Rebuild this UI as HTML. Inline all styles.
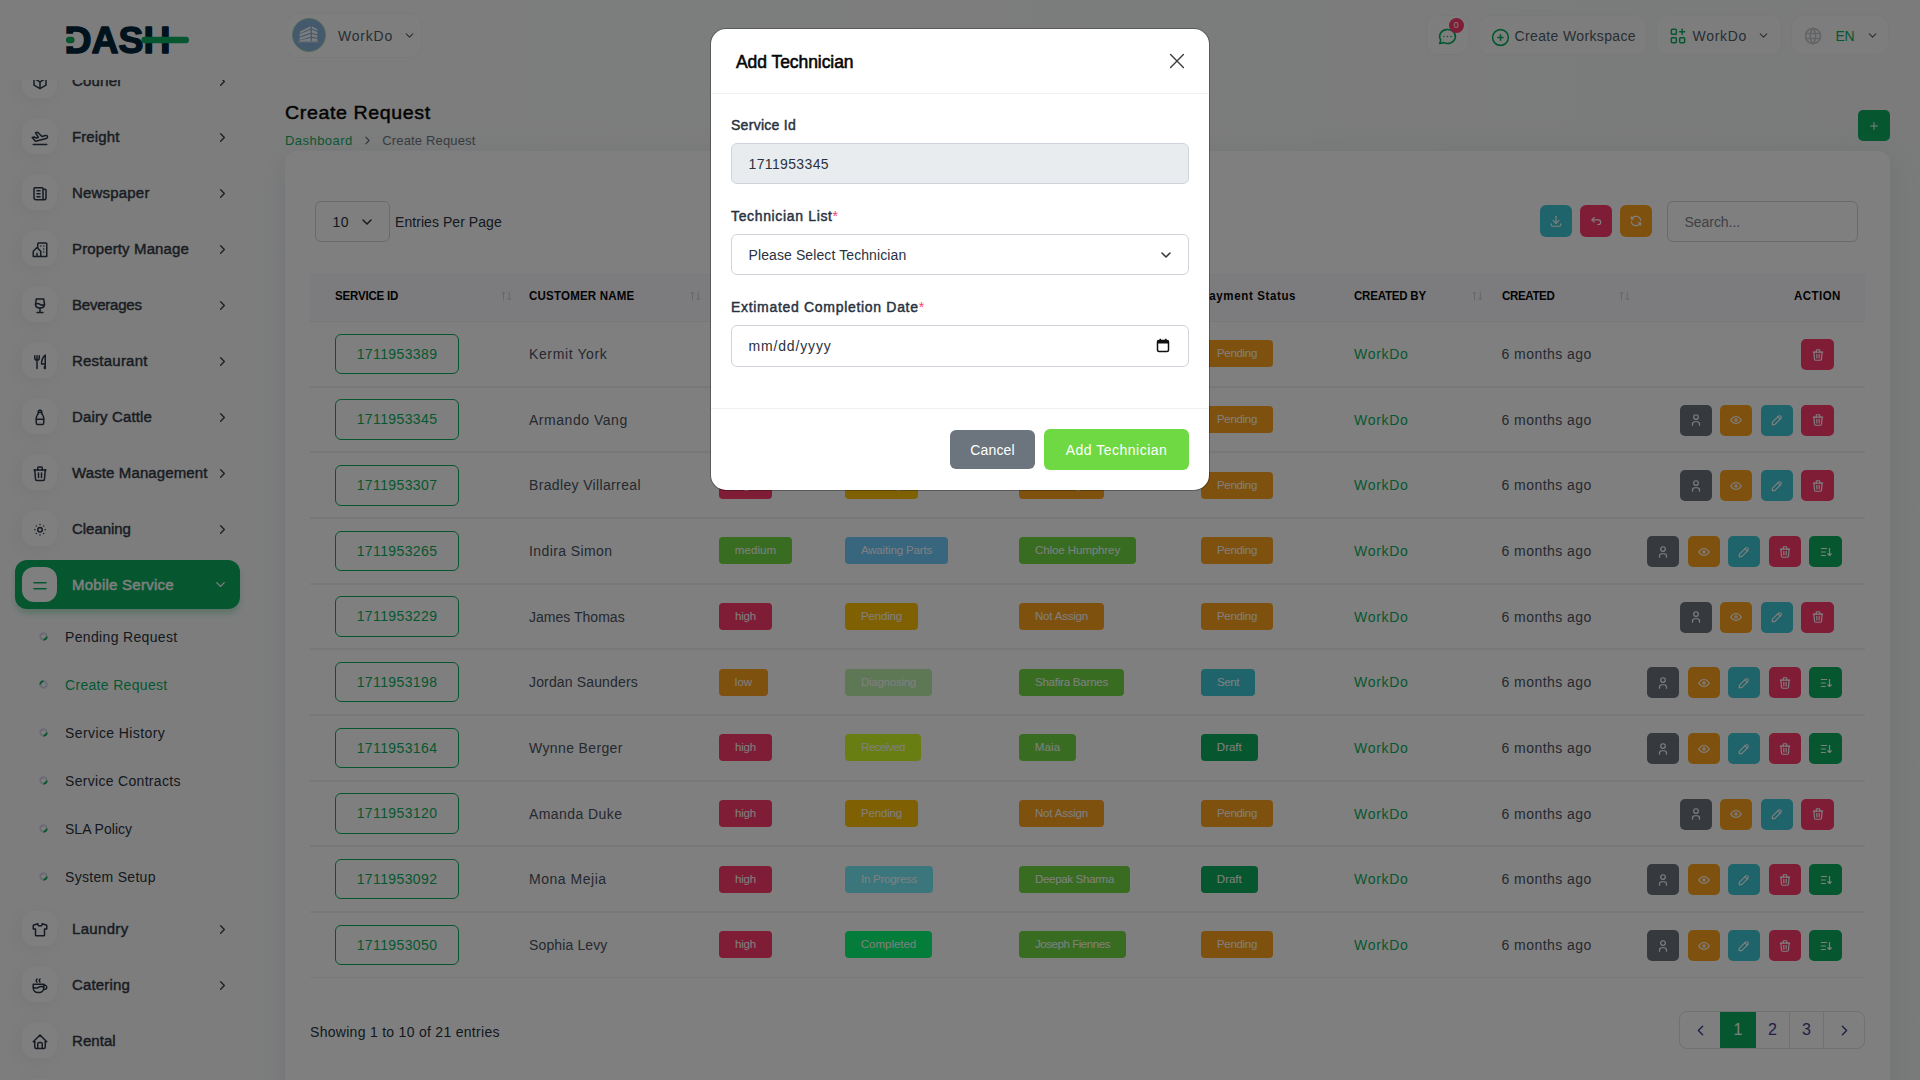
<!DOCTYPE html><html lang="en"><head><meta charset="utf-8"><title>Create Request</title><style>
*{box-sizing:border-box;margin:0;padding:0}
html,body{width:1920px;height:1080px;overflow:hidden}
body{font-family:"Liberation Sans",sans-serif;font-size:14px;color:#293240;background:linear-gradient(90deg,#fbfbfc 0%,#fafbfb 25%,#f4f6f5 100%);position:relative}
svg{display:block}
.abs{position:absolute}
/* sidebar */
.sidebar{position:absolute;left:0;top:0;width:280px;height:1080px}
.navwrap{position:absolute;left:0;top:80px;width:280px;height:1000px;overflow:hidden}
.nav{position:absolute;left:0;top:-80px;width:280px}
.ni{position:absolute;left:15px;width:225px;height:49px;border-radius:12px;color:#333a44}
.ni .ib{position:absolute;left:7px;top:7px;width:35px;height:35px;border-radius:12px;background:#fff;box-shadow:-3px 4px 23px rgba(0,0,0,.06);display:flex;align-items:center;justify-content:center;color:#2d3748}
.ni .ib svg{transform:translateY(.8px)}
.ni .t{position:absolute;left:57px;top:.5px;line-height:49px;font-size:14px;font-weight:400;-webkit-text-stroke:.42px currentColor;white-space:nowrap;transform:scaleX(1.07);transform-origin:0 50%}
.ni .ar{position:absolute;left:199.500px;top:17.500px;color:#333a44}
.ni.act{background:#0CAF60;box-shadow:0 5px 7px -1px rgba(12,175,96,.3);color:#fff}
.ni.act .ib{color:#0CAF60;box-shadow:none}
.ni.act .ar{color:#fff;left:197.500px;top:17px}
.si{position:absolute;left:65px;font-size:14px;line-height:20px;white-space:nowrap;color:#293240}
.si.cur{color:#0CAF60}
.dot{position:absolute;left:40px;width:7px;height:7px;border-radius:50%;border:1.5px solid #b9bdc6;border-right-color:#0CAF60;border-bottom-color:#0CAF60;transform:rotate(0deg)}
/* header */
.hbox{position:absolute;top:14.500px;height:40.500px;border:1px solid rgba(0,0,0,.035);background:rgba(255,255,255,.55);border-radius:12px;color:#525b69;font-size:14px;white-space:nowrap}
.hbox .tx{position:absolute;top:0;line-height:40px}
/* page */
h4.title{position:absolute;left:285px;top:99.500px;font-size:18.500px;line-height:26px;font-weight:400;color:#060606;white-space:nowrap;-webkit-text-stroke:.45px #060606}
.bc{position:absolute;top:132.200px;font-size:13px;line-height:18px;white-space:nowrap}
.card{position:absolute;left:285px;top:151px;width:1605px;height:960px;background:#fff;border-radius:12px;box-shadow:0 6px 30px rgba(182,186,203,.3)}
.btn-ic{position:absolute;width:32px;height:32px;border-radius:6px;display:flex;align-items:center;justify-content:center;color:#fff}
.th{position:absolute;top:-1px;font-size:12.800px;font-weight:700;line-height:48px;color:#060606;white-space:nowrap;transform:scaleX(.9);transform-origin:0 50%}
.sorter{position:absolute;top:17.500px;width:11px;height:10px;opacity:.16}
.row{position:absolute;left:25px;width:1555px;height:65.660px;border-bottom:1px solid #f1f1f1;border-top:1px solid #f1f1f1}
.cell{position:absolute;top:-1px;height:65.700px;display:flex;align-items:center;white-space:nowrap;font-size:14px;color:#4b5260}
.idb{display:block;width:124px;height:40.500px;border:1px solid #0CAF60;border-radius:6px;color:#0CAF60;text-align:center;line-height:39px;font-size:14px}
.bdg{display:inline-block;height:27px;line-height:26.600px;border-radius:4px;color:#fff;font-size:11.500px;text-align:center}
.ab{position:absolute;top:17px;width:32px;height:31px;border-radius:5px;display:flex;align-items:center;justify-content:center;color:#fff}
/* modal */
.backdrop{position:absolute;left:0;top:0;width:1920px;height:1080px;background:rgba(0,0,0,.5)}
.modal{position:absolute;left:711px;top:29px;width:498px;height:461px;background:#fff;border-radius:15px;color:#293240;box-shadow:0 0 0 1px rgba(0,0,0,.28)}
.modal .lbl{position:absolute;left:20px;font-size:14px;font-weight:400;-webkit-text-stroke:.45px #293240;line-height:20px;white-space:nowrap;color:#293240}
.modal .fc{position:absolute;left:20px;width:458px;height:41px;border:1px solid #ced4da;border-radius:6px;font-size:14px;line-height:40.500px;padding-left:16.500px;color:#293240;white-space:nowrap}
.req{color:#ff3a6e;font-weight:400;letter-spacing:0;-webkit-text-stroke:0}
</style></head><body>
<div class="sidebar">
<svg class="abs" style="left:60px;top:20px" width="140" height="40" viewBox="0 0 140 40">
<text x="4.500" y="32.600" font-family="Liberation Sans, sans-serif" font-weight="700" font-size="36.500" textLength="106" lengthAdjust="spacingAndGlyphs" fill="#00263a" stroke="#00263a" stroke-width="1.400" stroke-linejoin="round">DASH</text>
<rect x="4" y="13.800" width="11.600" height="12.400" fill="#fbfbfc"/>
<rect x="6" y="16.800" width="8.600" height="6.400" rx="3.200" fill="#0CAF60"/>
<rect x="81.400" y="16.800" width="47.600" height="6.400" rx="3.200" fill="#0CAF60"/>
</svg>
<div class="navwrap"><div class="nav">
<div class="ni" style="top:56px"><span class="ib"><svg width="18" height="18" viewBox="0 0 24 24" fill="none" stroke="currentColor" stroke-width="2" stroke-linecap="round" stroke-linejoin="round" ><path d="M12 3l8 4.5l0 9l-8 4.5l-8 -4.5l0 -9l8 -4.5"/><path d="M12 12l8 -4.5"/><path d="M12 12l0 9"/><path d="M12 12l-8 -4.5"/></svg></span><span class="t" style="letter-spacing:0.16px">Courier</span><span class="ar"><svg width="15" height="15" viewBox="0 0 24 24" fill="none" stroke="currentColor" stroke-width="2" stroke-linecap="round" stroke-linejoin="round" ><path d="M9 6l6 6l-6 6"/></svg></span></div>
<div class="ni" style="top:112px"><span class="ib"><svg width="18" height="18" viewBox="0 0 24 24" fill="none" stroke="currentColor" stroke-width="2" stroke-linecap="round" stroke-linejoin="round" ><path d="M14.639 10.258l4.83 -1.294a2 2 0 1 1 1.035 3.863l-14.489 3.883l-4.45 -5.02l2.897 -.776l2.45 1.414l2.897 -.776l-3.743 -6.244l2.898 -.777l5.675 5.727z"/><path d="M3 21h18"/></svg></span><span class="t" style="letter-spacing:0.11px">Freight</span><span class="ar"><svg width="15" height="15" viewBox="0 0 24 24" fill="none" stroke="currentColor" stroke-width="2" stroke-linecap="round" stroke-linejoin="round" ><path d="M9 6l6 6l-6 6"/></svg></span></div>
<div class="ni" style="top:168px"><span class="ib"><svg width="18" height="18" viewBox="0 0 24 24" fill="none" stroke="currentColor" stroke-width="2" stroke-linecap="round" stroke-linejoin="round" ><path d="M16 6h3a1 1 0 0 1 1 1v11a2 2 0 0 1 -4 0v-13a1 1 0 0 0 -1 -1h-10a1 1 0 0 0 -1 1v12a3 3 0 0 0 3 3h11"/><path d="M8 8l4 0"/><path d="M8 12l4 0"/><path d="M8 16l4 0"/></svg></span><span class="t" style="letter-spacing:0.19px">Newspaper</span><span class="ar"><svg width="15" height="15" viewBox="0 0 24 24" fill="none" stroke="currentColor" stroke-width="2" stroke-linecap="round" stroke-linejoin="round" ><path d="M9 6l6 6l-6 6"/></svg></span></div>
<div class="ni" style="top:224px"><span class="ib"><svg width="18" height="18" viewBox="0 0 24 24" fill="none" stroke="currentColor" stroke-width="2" stroke-linecap="round" stroke-linejoin="round" ><path d="M8 9l5 5v7h-5v-4m0 4h-5v-7l5 -5m1 1v-6a1 1 0 0 1 1 -1h10a1 1 0 0 1 1 1v17h-8"/><path d="M13 7l0 .01"/><path d="M17 7l0 .01"/><path d="M17 11l0 .01"/><path d="M17 15l0 .01"/></svg></span><span class="t" style="letter-spacing:0.13px">Property Manage</span><span class="ar"><svg width="15" height="15" viewBox="0 0 24 24" fill="none" stroke="currentColor" stroke-width="2" stroke-linecap="round" stroke-linejoin="round" ><path d="M9 6l6 6l-6 6"/></svg></span></div>
<div class="ni" style="top:280px"><span class="ib"><svg width="18" height="18" viewBox="0 0 24 24" fill="none" stroke="currentColor" stroke-width="2" stroke-linecap="round" stroke-linejoin="round" ><path d="M8 21l8 0"/><path d="M12 15l0 6"/><path d="M17 3l1 7c0 3.012 -2.686 5 -6 5s-6 -1.988 -6 -5l1 -7h10z"/><path d="M6 10a5 5 0 0 1 6 0a5 5 0 0 0 6 0"/></svg></span><span class="t" style="letter-spacing:-0.20px">Beverages</span><span class="ar"><svg width="15" height="15" viewBox="0 0 24 24" fill="none" stroke="currentColor" stroke-width="2" stroke-linecap="round" stroke-linejoin="round" ><path d="M9 6l6 6l-6 6"/></svg></span></div>
<div class="ni" style="top:336px"><span class="ib"><svg width="18" height="18" viewBox="0 0 24 24" fill="none" stroke="currentColor" stroke-width="2" stroke-linecap="round" stroke-linejoin="round" ><path d="M19 3v12h-5c-.023 -3.681 .184 -7.406 5 -12zm0 12v6h-1v-3m-10 -14v17m-3 -17v3a3 3 0 1 0 6 0v-3"/></svg></span><span class="t" style="letter-spacing:0.22px">Restaurant</span><span class="ar"><svg width="15" height="15" viewBox="0 0 24 24" fill="none" stroke="currentColor" stroke-width="2" stroke-linecap="round" stroke-linejoin="round" ><path d="M9 6l6 6l-6 6"/></svg></span></div>
<div class="ni" style="top:392px"><span class="ib"><svg width="18" height="18" viewBox="0 0 24 24" fill="none" stroke="currentColor" stroke-width="2" stroke-linecap="round" stroke-linejoin="round" ><path d="M10 5h4v-2a1 1 0 0 0 -1 -1h-2a1 1 0 0 0 -1 1v2z"/><path d="M14 3.5c0 1.626 .507 3.212 1.45 4.537l.05 .07a8.093 8.093 0 0 1 1.5 4.694v6.199a2 2 0 0 1 -2 2h-6a2 2 0 0 1 -2 -2v-6.2c0 -1.682 .524 -3.322 1.5 -4.693l.05 -.07a7.823 7.823 0 0 0 1.450 -4.537"/><path d="M7 14h10"/></svg></span><span class="t" style="letter-spacing:0.14px">Dairy Cattle</span><span class="ar"><svg width="15" height="15" viewBox="0 0 24 24" fill="none" stroke="currentColor" stroke-width="2" stroke-linecap="round" stroke-linejoin="round" ><path d="M9 6l6 6l-6 6"/></svg></span></div>
<div class="ni" style="top:448px"><span class="ib"><svg width="18" height="18" viewBox="0 0 24 24" fill="none" stroke="currentColor" stroke-width="2" stroke-linecap="round" stroke-linejoin="round" ><path d="M4 7l16 0"/><path d="M10 11l0 6"/><path d="M14 11l0 6"/><path d="M5 7l1 12a2 2 0 0 0 2 2h8a2 2 0 0 0 2 -2l1 -12"/><path d="M9 7v-3a1 1 0 0 1 1 -1h4a1 1 0 0 1 1 1v3"/></svg></span><span class="t" style="letter-spacing:0.12px">Waste Management</span><span class="ar"><svg width="15" height="15" viewBox="0 0 24 24" fill="none" stroke="currentColor" stroke-width="2" stroke-linecap="round" stroke-linejoin="round" ><path d="M9 6l6 6l-6 6"/></svg></span></div>
<div class="ni" style="top:504px"><span class="ib"><svg width="18" height="18" viewBox="0 0 24 24" fill="none" stroke="currentColor" stroke-width="2" stroke-linecap="round" stroke-linejoin="round" ><path d="M12 12m-3 0a3 3 0 1 0 6 0a3 3 0 1 0 -6 0"/><path d="M12 5l0 .01"/><path d="M17 7l0 .01"/><path d="M19 12l0 .01"/><path d="M17 17l0 .01"/><path d="M12 19l0 .01"/><path d="M7 17l0 .01"/><path d="M5 12l0 .01"/><path d="M7 7l0 .01"/></svg></span><span class="t" style="letter-spacing:-0.03px">Cleaning</span><span class="ar"><svg width="15" height="15" viewBox="0 0 24 24" fill="none" stroke="currentColor" stroke-width="2" stroke-linecap="round" stroke-linejoin="round" ><path d="M9 6l6 6l-6 6"/></svg></span></div>
<div class="ni act" style="top:560px"><span class="ib"><svg width="18" height="18" viewBox="0 0 24 24" fill="none" stroke="currentColor" stroke-width="2" stroke-linecap="round" stroke-linejoin="round" ><path d="M4 8l16 0"/><path d="M4 16l16 0"/></svg></span><span class="t" style="letter-spacing:0.24px">Mobile Service</span><span class="ar"><svg width="15" height="15" viewBox="0 0 24 24" fill="none" stroke="currentColor" stroke-width="2" stroke-linecap="round" stroke-linejoin="round" ><path d="M6 9l6 6l6 -6"/></svg></span></div>
<div class="ni" style="top:904px"><span class="ib"><svg width="18" height="18" viewBox="0 0 24 24" fill="none" stroke="currentColor" stroke-width="2" stroke-linecap="round" stroke-linejoin="round" ><path d="M15 4l6 2v5h-3v8a1 1 0 0 1 -1 1h-10a1 1 0 0 1 -1 -1v-8h-3v-5l6 -2a3 3 0 0 0 6 0"/></svg></span><span class="t" style="letter-spacing:0.31px">Laundry</span><span class="ar"><svg width="15" height="15" viewBox="0 0 24 24" fill="none" stroke="currentColor" stroke-width="2" stroke-linecap="round" stroke-linejoin="round" ><path d="M9 6l6 6l-6 6"/></svg></span></div>
<div class="ni" style="top:960px"><span class="ib"><svg width="18" height="18" viewBox="0 0 24 24" fill="none" stroke="currentColor" stroke-width="2" stroke-linecap="round" stroke-linejoin="round" ><path d="M3 14c.83 .642 2.077 1.017 3.5 1c1.423 .017 2.670 -.358 3.5 -1c.83 -.642 2.077 -1.017 3.5 -1c1.423 -.017 2.670 .358 3.5 1"/><path d="M8 3a2.4 2.4 0 0 0 -1 2a2.4 2.4 0 0 0 1 2"/><path d="M12 3a2.4 2.4 0 0 0 -1 2a2.4 2.4 0 0 0 1 2"/><path d="M3 10h14v5a6 6 0 0 1 -6 6h-2a6 6 0 0 1 -6 -6v-5z"/><path d="M16.746 16.726a3 3 0 1 0 .252 -5.555"/></svg></span><span class="t" style="letter-spacing:0.17px">Catering</span><span class="ar"><svg width="15" height="15" viewBox="0 0 24 24" fill="none" stroke="currentColor" stroke-width="2" stroke-linecap="round" stroke-linejoin="round" ><path d="M9 6l6 6l-6 6"/></svg></span></div>
<div class="ni" style="top:1016px"><span class="ib"><svg width="18" height="18" viewBox="0 0 24 24" fill="none" stroke="currentColor" stroke-width="2" stroke-linecap="round" stroke-linejoin="round" ><path d="M5 12l-2 0l9 -9l9 9l-2 0"/><path d="M5 12v7a2 2 0 0 0 2 2h10a2 2 0 0 0 2 -2v-7"/><path d="M9 21v-6a2 2 0 0 1 2 -2h2a2 2 0 0 1 2 2v6"/></svg></span><span class="t" style="letter-spacing:0.06px">Rental</span></div>
<div class="ni" style="top:1072px"><span class="ib"><svg width="18" height="18" viewBox="0 0 24 24" fill="none" stroke="currentColor" stroke-width="2" stroke-linecap="round" stroke-linejoin="round" ><path d="M8 7a4 4 0 1 0 8 0a4 4 0 0 0 -8 0"/><path d="M6 21v-2a4 4 0 0 1 4 -4h4a4 4 0 0 1 4 4v2"/></svg></span></div>
<svg class="abs" style="left:39.300px;top:631.7px;transform:rotate(0deg)" width="9" height="9" viewBox="0 0 9 9" fill="none" stroke-width="1.900"><circle cx="4.500" cy="4.500" r="3.300" stroke="#d3d9e6"/><path d="M7.690 5.350A3.300 3.300 0 0 1 5.350 7.690" stroke="#0CAF60" stroke-linecap="round"/></svg><span class="si" style="top:627px;letter-spacing:0.34px">Pending Request</span>
<svg class="abs" style="left:39.300px;top:679.7px;transform:rotate(180deg)" width="9" height="9" viewBox="0 0 9 9" fill="none" stroke-width="1.900"><circle cx="4.500" cy="4.500" r="3.300" stroke="#d3d9e6"/><path d="M7.690 5.350A3.300 3.300 0 0 1 5.350 7.690" stroke="#0CAF60" stroke-linecap="round"/></svg><span class="si cur" style="top:675px;letter-spacing:0.32px">Create Request</span>
<svg class="abs" style="left:39.300px;top:727.7px;transform:rotate(0deg)" width="9" height="9" viewBox="0 0 9 9" fill="none" stroke-width="1.900"><circle cx="4.500" cy="4.500" r="3.300" stroke="#d3d9e6"/><path d="M7.690 5.350A3.300 3.300 0 0 1 5.350 7.690" stroke="#0CAF60" stroke-linecap="round"/></svg><span class="si" style="top:723px;letter-spacing:0.40px">Service History</span>
<svg class="abs" style="left:39.300px;top:775.7px;transform:rotate(0deg)" width="9" height="9" viewBox="0 0 9 9" fill="none" stroke-width="1.900"><circle cx="4.500" cy="4.500" r="3.300" stroke="#d3d9e6"/><path d="M7.690 5.350A3.300 3.300 0 0 1 5.350 7.690" stroke="#0CAF60" stroke-linecap="round"/></svg><span class="si" style="top:771px;letter-spacing:0.31px">Service Contracts</span>
<svg class="abs" style="left:39.300px;top:823.7px;transform:rotate(0deg)" width="9" height="9" viewBox="0 0 9 9" fill="none" stroke-width="1.900"><circle cx="4.500" cy="4.500" r="3.300" stroke="#d3d9e6"/><path d="M7.690 5.350A3.300 3.300 0 0 1 5.350 7.690" stroke="#0CAF60" stroke-linecap="round"/></svg><span class="si" style="top:819px;letter-spacing:0.01px">SLA Policy</span>
<svg class="abs" style="left:39.300px;top:871.7px;transform:rotate(0deg)" width="9" height="9" viewBox="0 0 9 9" fill="none" stroke-width="1.900"><circle cx="4.500" cy="4.500" r="3.300" stroke="#d3d9e6"/><path d="M7.690 5.350A3.300 3.300 0 0 1 5.350 7.690" stroke="#0CAF60" stroke-linecap="round"/></svg><span class="si" style="top:867px;letter-spacing:0.30px">System Setup</span>
</div></div></div>
<div class="hbox" style="left:285.500px;top:12.500px;width:136px;height:45px"><span class="abs" style="left:5.500px;top:4.500px;width:34px;height:34px;border-radius:50%;background:#88b2d6;border:1px solid #a5d8b8;overflow:hidden"><svg width="32" height="32" viewBox="1 1 32 32" fill="#fff" fill-opacity=".93"><path d="M18.600 8.200L8 13.600v1.600l10.600-4.600z"/><path d="M18.600 11.800L7.500 16.200v2.400l11.100-3.800z"/><path d="M18.600 16L7.500 19.800v2.200l11.100-3.200z"/><path d="M18.600 20L8 22.200v.800h10.600z"/><path d="M19.900 8.200l5.400 3v1.600l-5.400-2.400z"/><path d="M19.900 11.800l5.400 2.200v2.600l-5.400-1.800z"/><path d="M19.900 16l5.400 1.600v2.200l-5.400-1z"/><path d="M19.900 20l5.400 .800v2.200h-5.400z"/><rect x="6" y="22.900" width="20.300" height="1.500" fill-opacity=".55"/></svg></span><span class="tx" style="left:51.500px;line-height:44px;letter-spacing:0.78px">WorkDo</span><span class="abs" style="left:116px;top:15px"><svg width="13" height="13" viewBox="0 0 24 24" fill="none" stroke="#525b69" stroke-width="2" stroke-linecap="round" stroke-linejoin="round" ><path d="M6 9l6 6l6 -6"/></svg></span></div>
<div class="hbox" style="left:1425.500px;width:43px"><span class="abs" style="left:10px;top:10px"><svg width="21" height="21" viewBox="0 0 24 24" fill="none" stroke="#0CAF60" stroke-width="1.8" stroke-linecap="round" stroke-linejoin="round" ><path d="M3 20l1.300 -3.900a9 8 0 1 1 3.400 2.900l-4.700 1"/><path d="M12 12l0 .01"/><path d="M8 12l0 .01"/><path d="M16 12l0 .01"/></svg></span><span class="abs" style="left:22px;top:2px;width:15.500px;height:15px;border-radius:8px;background:#ff3a6e;color:#fff;font-size:9.500px;line-height:14px;text-align:center">0</span></div>
<div class="hbox" style="left:1477.500px;width:169px"><span class="abs" style="left:11.200px;top:11px"><svg width="21" height="21" viewBox="0 0 24 24" fill="none" stroke="#0CAF60" stroke-width="1.8" stroke-linecap="round" stroke-linejoin="round" ><circle cx="12" cy="12" r="9"/><path d="M9 12h6"/><path d="M12 9v6"/></svg></span><span class="tx" style="left:36px;letter-spacing:0.36px">Create Workspace</span></div>
<div class="hbox" style="left:1655.500px;width:126px"><span class="abs" style="left:11.500px;top:10px"><svg width="20" height="20" viewBox="0 0 24 24" fill="none" stroke="#0CAF60" stroke-width="1.8" stroke-linecap="round" stroke-linejoin="round" ><rect x="4" y="4" width="6" height="6" rx="1"/><rect x="4" y="14" width="6" height="6" rx="1"/><rect x="14" y="14" width="6" height="6" rx="1"/><path d="M14 7l6 0"/><path d="M17 4l0 6"/></svg></span><span class="tx" style="left:36px;letter-spacing:0.69px">WorkDo</span><span class="abs" style="left:100.500px;top:13.500px"><svg width="13" height="13" viewBox="0 0 24 24" fill="none" stroke="#525b69" stroke-width="2" stroke-linecap="round" stroke-linejoin="round" ><path d="M6 9l6 6l6 -6"/></svg></span></div>
<div class="hbox" style="left:1791px;width:98px"><span class="abs" style="left:11px;top:10px"><svg width="20" height="20" viewBox="0 0 24 24" fill="none" stroke="#c6c9cc" stroke-width="2" stroke-linecap="round" stroke-linejoin="round" ><circle cx="12" cy="12" r="9"/><path d="M3.600 9h16.800"/><path d="M3.600 15h16.800"/><path d="M11.500 3a17 17 0 0 0 0 18"/><path d="M12.500 3a17 17 0 0 1 0 18"/></svg></span><span class="tx" style="left:43.500px;color:#0CAF60;letter-spacing:-0.27px">EN</span><span class="abs" style="left:73.500px;top:13.500px"><svg width="13" height="13" viewBox="0 0 24 24" fill="none" stroke="#525b69" stroke-width="2" stroke-linecap="round" stroke-linejoin="round" ><path d="M6 9l6 6l6 -6"/></svg></span></div>
<h4 class="title" style="transform:scaleX(1.06);transform-origin:0 0;letter-spacing:0.57px">Create Request</h4>
<span class="bc" style="left:285px;color:#0CAF60;letter-spacing:0.45px">Dashboard</span>
<span class="abs" style="left:360.500px;top:133.700px"><svg width="13" height="13" viewBox="0 0 24 24" fill="none" stroke="#6c757d" stroke-width="2.2" stroke-linecap="round" stroke-linejoin="round" ><path d="M9 6l6 6l-6 6"/></svg></span>
<span class="bc" style="left:382.300px;color:#6c757d;letter-spacing:0.15px">Create Request</span>
<div class="btn-ic" style="left:1858px;top:110px;width:32px;height:31px;background:#0CAF60;border-radius:5px"><svg width="12" height="12" viewBox="0 0 24 24" fill="none" stroke="currentColor" stroke-width="2" stroke-linecap="round" stroke-linejoin="round" ><path d="M12 5l0 14"/><path d="M5 12l14 0"/></svg></div>
<div class="card">
<div class="abs" style="left:30px;top:50px;width:74.500px;height:40.500px;border:1px solid #ced4da;border-radius:6px"><span class="abs" style="left:16.500px;top:1px;line-height:38.500px;font-size:14px;color:#293240;letter-spacing:0.41px">10</span><span class="abs" style="left:43px;top:12px"><svg width="16" height="16" viewBox="0 0 24 24" fill="none" stroke="#343a40" stroke-width="2.4" stroke-linecap="round" stroke-linejoin="round" ><path d="M6 9l6 6l6 -6"/></svg></span></div>
<span class="abs" style="left:110px;top:60.500px;line-height:20px;font-size:14px;color:#293240;white-space:nowrap;letter-spacing:0.06px">Entries Per Page</span>
<div class="btn-ic" style="left:1255px;top:54px;background:#3ec9d6"><svg width="14" height="14" viewBox="0 0 24 24" fill="none" stroke="currentColor" stroke-width="2" stroke-linecap="round" stroke-linejoin="round" ><path d="M4 17v2a2 2 0 0 0 2 2h12a2 2 0 0 0 2 -2v-2"/><path d="M7 11l5 5l5 -5"/><path d="M12 4l0 12"/></svg></div>
<div class="btn-ic" style="left:1295px;top:54px;background:#ff3a6e"><svg width="14" height="14" viewBox="0 0 24 24" fill="none" stroke="currentColor" stroke-width="2" stroke-linecap="round" stroke-linejoin="round" ><path d="M9 14l-4 -4l4 -4"/><path d="M5 10h11a4 4 0 1 1 0 8h-1"/></svg></div>
<div class="btn-ic" style="left:1335px;top:54px;background:#ffa21d"><svg width="14" height="14" viewBox="0 0 24 24" fill="none" stroke="currentColor" stroke-width="2" stroke-linecap="round" stroke-linejoin="round" ><path d="M20 11a8.100 8.100 0 0 0 -15.500 -2m-.500 -4v4h4"/><path d="M4 13a8.100 8.100 0 0 0 15.500 2m.500 4v-4h-4"/></svg></div>
<div class="abs" style="left:1382px;top:50px;width:191px;height:40.500px;border:1px solid #ced4da;border-radius:6px;padding-left:16.500px;line-height:40px;font-size:14px;color:#7c838a;letter-spacing:-0.04px">Search...</div>
<div class="abs" style="left:25px;top:122px;width:1555px;height:48.500px;background:#f8f9fd;border-bottom:1px solid #f1f1f1">
<span class="th" style="left:25px;letter-spacing:-0.21px">SERVICE ID</span>
<span class="th" style="left:219px;letter-spacing:0.23px">CUSTOMER NAME</span>
<span class="th" style="left:409px;letter-spacing:-0.01px">PRIORITY</span>
<span class="th" style="left:535px;letter-spacing:-0.11px">STATUS</span>
<span class="th" style="left:709px;letter-spacing:-0.08px">TECHNICIAN</span>
<span class="th" style="left:891px;letter-spacing:0.69px">Payment Status</span>
<span class="th" style="left:1044px;letter-spacing:-0.23px">CREATED BY</span>
<span class="th" style="left:1191.5px;letter-spacing:-0.38px">CREATED</span>
<span class="th" style="left:1483.700px;letter-spacing:0.49px">ACTION</span>
<svg class="sorter" style="left:190.7px" viewBox="0 0 11 10" fill="none" stroke="#000" stroke-width="1"><path d="M2.500 9.500v-8.500M.700 3l1.800-2l1.800 2M8.300 .500v8.500M6.500 7l1.800 2l1.800-2"/></svg>
<svg class="sorter" style="left:379.9px" viewBox="0 0 11 10" fill="none" stroke="#000" stroke-width="1"><path d="M2.500 9.500v-8.500M.700 3l1.800-2l1.800 2M8.300 .500v8.500M6.500 7l1.800 2l1.800-2"/></svg>
<svg class="sorter" style="left:505px" viewBox="0 0 11 10" fill="none" stroke="#000" stroke-width="1"><path d="M2.500 9.500v-8.500M.700 3l1.800-2l1.800 2M8.300 .500v8.500M6.500 7l1.800 2l1.800-2"/></svg>
<svg class="sorter" style="left:680px" viewBox="0 0 11 10" fill="none" stroke="#000" stroke-width="1"><path d="M2.500 9.500v-8.500M.700 3l1.800-2l1.800 2M8.300 .500v8.500M6.500 7l1.800 2l1.800-2"/></svg>
<svg class="sorter" style="left:860px" viewBox="0 0 11 10" fill="none" stroke="#000" stroke-width="1"><path d="M2.500 9.500v-8.500M.700 3l1.800-2l1.800 2M8.300 .500v8.500M6.500 7l1.800 2l1.800-2"/></svg>
<svg class="sorter" style="left:1162.2px" viewBox="0 0 11 10" fill="none" stroke="#000" stroke-width="1"><path d="M2.500 9.500v-8.500M.700 3l1.800-2l1.800 2M8.300 .500v8.500M6.500 7l1.800 2l1.800-2"/></svg>
<svg class="sorter" style="left:1309.2px" viewBox="0 0 11 10" fill="none" stroke="#000" stroke-width="1"><path d="M2.500 9.500v-8.500M.700 3l1.800-2l1.800 2M8.300 .500v8.500M6.500 7l1.800 2l1.800-2"/></svg>
</div>
<div class="row" style="top:170.10px">
<div class="cell" style="left:25px"><span class="idb" style="letter-spacing:0.38px">1711953389</span></div>
<div class="cell" style="left:219px;letter-spacing:0.62px">Kermit York</div>
<div class="cell" style="left:409px"><span class="bdg" style="width:53px;background:#ff3a6e;letter-spacing:-0.15px">high</span></div>
<div class="cell" style="left:535px"><span class="bdg" style="width:73px;background:#ffc107;letter-spacing:-0.15px">Pending</span></div>
<div class="cell" style="left:709px"><span class="bdg" style="width:85px;background:#ffa21d;letter-spacing:-0.19px">Not Assign</span></div>
<div class="cell" style="left:891px"><span class="bdg" style="width:72px;background:#ffa21d;letter-spacing:-0.32px">Pending</span></div>
<div class="cell" style="left:1044px;color:#0CAF60;letter-spacing:0.69px">WorkDo</div>
<div class="cell" style="left:1191.500px;letter-spacing:0.46px">6 months ago</div>
<span class="ab" style="left:1491px;width:33px;background:#ff3a6e"><svg width="14" height="14" viewBox="0 0 24 24" fill="none" stroke="currentColor" stroke-width="2" stroke-linecap="round" stroke-linejoin="round" ><path d="M4 7l16 0"/><path d="M10 11l0 6"/><path d="M14 11l0 6"/><path d="M5 7l1 12a2 2 0 0 0 2 2h8a2 2 0 0 0 2 -2l1 -12"/><path d="M9 7v-3a1 1 0 0 1 1 -1h4a1 1 0 0 1 1 1v3"/></svg></span>
</div>
<div class="row" style="top:235.76px">
<div class="cell" style="left:25px"><span class="idb" style="letter-spacing:0.38px">1711953345</span></div>
<div class="cell" style="left:219px;letter-spacing:0.53px">Armando Vang</div>
<div class="cell" style="left:409px"><span class="bdg" style="width:53px;background:#ff3a6e;letter-spacing:-0.15px">high</span></div>
<div class="cell" style="left:535px"><span class="bdg" style="width:73px;background:#ffc107;letter-spacing:-0.15px">Pending</span></div>
<div class="cell" style="left:709px"><span class="bdg" style="width:85px;background:#ffa21d;letter-spacing:-0.19px">Not Assign</span></div>
<div class="cell" style="left:891px"><span class="bdg" style="width:72px;background:#ffa21d;letter-spacing:-0.32px">Pending</span></div>
<div class="cell" style="left:1044px;color:#0CAF60;letter-spacing:0.69px">WorkDo</div>
<div class="cell" style="left:1191.500px;letter-spacing:0.46px">6 months ago</div>
<span class="ab" style="left:1370px;width:32px;background:#6c757d"><svg width="14" height="14" viewBox="0 0 24 24" fill="none" stroke="currentColor" stroke-width="2" stroke-linecap="round" stroke-linejoin="round" ><path d="M8 7a4 4 0 1 0 8 0a4 4 0 0 0 -8 0"/><path d="M6 21v-2a4 4 0 0 1 4 -4h4a4 4 0 0 1 4 4v2"/></svg></span>
<span class="ab" style="left:1410px;width:32px;background:#ffa21d"><svg width="14" height="14" viewBox="0 0 24 24" fill="none" stroke="currentColor" stroke-width="2" stroke-linecap="round" stroke-linejoin="round" ><path d="M10 12a2 2 0 1 0 4 0a2 2 0 0 0 -4 0"/><path d="M21 12c-2.4 4 -5.4 6 -9 6c-3.6 0 -6.6 -2 -9 -6c2.4 -4 5.4 -6 9 -6c3.6 0 6.6 2 9 6"/></svg></span>
<span class="ab" style="left:1451px;width:32px;background:#3ec9d6"><svg width="14" height="14" viewBox="0 0 24 24" fill="none" stroke="currentColor" stroke-width="2" stroke-linecap="round" stroke-linejoin="round" ><path d="M4 20h4l10.5 -10.5a2.828 2.828 0 1 0 -4 -4l-10.5 10.5v4"/><path d="M13.5 6.500l4 4"/></svg></span>
<span class="ab" style="left:1491px;width:33px;background:#ff3a6e"><svg width="14" height="14" viewBox="0 0 24 24" fill="none" stroke="currentColor" stroke-width="2" stroke-linecap="round" stroke-linejoin="round" ><path d="M4 7l16 0"/><path d="M10 11l0 6"/><path d="M14 11l0 6"/><path d="M5 7l1 12a2 2 0 0 0 2 2h8a2 2 0 0 0 2 -2l1 -12"/><path d="M9 7v-3a1 1 0 0 1 1 -1h4a1 1 0 0 1 1 1v3"/></svg></span>
</div>
<div class="row" style="top:301.42px">
<div class="cell" style="left:25px"><span class="idb" style="letter-spacing:0.38px">1711953307</span></div>
<div class="cell" style="left:219px;letter-spacing:0.35px">Bradley Villarreal</div>
<div class="cell" style="left:409px"><span class="bdg" style="width:53px;background:#ff3a6e;letter-spacing:-0.15px">high</span></div>
<div class="cell" style="left:535px"><span class="bdg" style="width:73px;background:#ffc107;letter-spacing:-0.15px">Pending</span></div>
<div class="cell" style="left:709px"><span class="bdg" style="width:85px;background:#ffa21d;letter-spacing:-0.19px">Not Assign</span></div>
<div class="cell" style="left:891px"><span class="bdg" style="width:72px;background:#ffa21d;letter-spacing:-0.32px">Pending</span></div>
<div class="cell" style="left:1044px;color:#0CAF60;letter-spacing:0.69px">WorkDo</div>
<div class="cell" style="left:1191.500px;letter-spacing:0.46px">6 months ago</div>
<span class="ab" style="left:1370px;width:32px;background:#6c757d"><svg width="14" height="14" viewBox="0 0 24 24" fill="none" stroke="currentColor" stroke-width="2" stroke-linecap="round" stroke-linejoin="round" ><path d="M8 7a4 4 0 1 0 8 0a4 4 0 0 0 -8 0"/><path d="M6 21v-2a4 4 0 0 1 4 -4h4a4 4 0 0 1 4 4v2"/></svg></span>
<span class="ab" style="left:1410px;width:32px;background:#ffa21d"><svg width="14" height="14" viewBox="0 0 24 24" fill="none" stroke="currentColor" stroke-width="2" stroke-linecap="round" stroke-linejoin="round" ><path d="M10 12a2 2 0 1 0 4 0a2 2 0 0 0 -4 0"/><path d="M21 12c-2.4 4 -5.4 6 -9 6c-3.6 0 -6.6 -2 -9 -6c2.4 -4 5.4 -6 9 -6c3.6 0 6.6 2 9 6"/></svg></span>
<span class="ab" style="left:1451px;width:32px;background:#3ec9d6"><svg width="14" height="14" viewBox="0 0 24 24" fill="none" stroke="currentColor" stroke-width="2" stroke-linecap="round" stroke-linejoin="round" ><path d="M4 20h4l10.5 -10.5a2.828 2.828 0 1 0 -4 -4l-10.5 10.5v4"/><path d="M13.5 6.500l4 4"/></svg></span>
<span class="ab" style="left:1491px;width:33px;background:#ff3a6e"><svg width="14" height="14" viewBox="0 0 24 24" fill="none" stroke="currentColor" stroke-width="2" stroke-linecap="round" stroke-linejoin="round" ><path d="M4 7l16 0"/><path d="M10 11l0 6"/><path d="M14 11l0 6"/><path d="M5 7l1 12a2 2 0 0 0 2 2h8a2 2 0 0 0 2 -2l1 -12"/><path d="M9 7v-3a1 1 0 0 1 1 -1h4a1 1 0 0 1 1 1v3"/></svg></span>
</div>
<div class="row" style="top:367.08px">
<div class="cell" style="left:25px"><span class="idb" style="letter-spacing:0.38px">1711953265</span></div>
<div class="cell" style="left:219px;letter-spacing:0.40px">Indira Simon</div>
<div class="cell" style="left:409px"><span class="bdg" style="width:73px;background:#6fd943;letter-spacing:0.08px">medium</span></div>
<div class="cell" style="left:535px"><span class="bdg" style="width:103px;background:#72ccff;letter-spacing:-0.15px">Awaiting Parts</span></div>
<div class="cell" style="left:709px"><span class="bdg" style="width:117px;background:#6fd943;letter-spacing:-0.08px">Chloe Humphrey</span></div>
<div class="cell" style="left:891px"><span class="bdg" style="width:72px;background:#ffa21d;letter-spacing:-0.32px">Pending</span></div>
<div class="cell" style="left:1044px;color:#0CAF60;letter-spacing:0.69px">WorkDo</div>
<div class="cell" style="left:1191.500px;letter-spacing:0.46px">6 months ago</div>
<span class="ab" style="left:1337px;width:32px;background:#6c757d"><svg width="14" height="14" viewBox="0 0 24 24" fill="none" stroke="currentColor" stroke-width="2" stroke-linecap="round" stroke-linejoin="round" ><path d="M8 7a4 4 0 1 0 8 0a4 4 0 0 0 -8 0"/><path d="M6 21v-2a4 4 0 0 1 4 -4h4a4 4 0 0 1 4 4v2"/></svg></span>
<span class="ab" style="left:1378px;width:32px;background:#ffa21d"><svg width="14" height="14" viewBox="0 0 24 24" fill="none" stroke="currentColor" stroke-width="2" stroke-linecap="round" stroke-linejoin="round" ><path d="M10 12a2 2 0 1 0 4 0a2 2 0 0 0 -4 0"/><path d="M21 12c-2.4 4 -5.4 6 -9 6c-3.6 0 -6.6 -2 -9 -6c2.4 -4 5.4 -6 9 -6c3.6 0 6.6 2 9 6"/></svg></span>
<span class="ab" style="left:1418px;width:32px;background:#3ec9d6"><svg width="14" height="14" viewBox="0 0 24 24" fill="none" stroke="currentColor" stroke-width="2" stroke-linecap="round" stroke-linejoin="round" ><path d="M4 20h4l10.5 -10.5a2.828 2.828 0 1 0 -4 -4l-10.5 10.5v4"/><path d="M13.5 6.500l4 4"/></svg></span>
<span class="ab" style="left:1459px;width:32px;background:#ff3a6e"><svg width="14" height="14" viewBox="0 0 24 24" fill="none" stroke="currentColor" stroke-width="2" stroke-linecap="round" stroke-linejoin="round" ><path d="M4 7l16 0"/><path d="M10 11l0 6"/><path d="M14 11l0 6"/><path d="M5 7l1 12a2 2 0 0 0 2 2h8a2 2 0 0 0 2 -2l1 -12"/><path d="M9 7v-3a1 1 0 0 1 1 -1h4a1 1 0 0 1 1 1v3"/></svg></span>
<span class="ab" style="left:1499px;width:33px;background:#0CAF60"><svg width="14" height="14" viewBox="0 0 24 24" fill="none" stroke="currentColor" stroke-width="2" stroke-linecap="round" stroke-linejoin="round" ><path d="M4 6l9 0"/><path d="M4 12l7 0"/><path d="M4 18l7 0"/><path d="M15 15l3 3l3 -3"/><path d="M18 6l0 12"/></svg></span>
</div>
<div class="row" style="top:432.74px">
<div class="cell" style="left:25px"><span class="idb" style="letter-spacing:0.38px">1711953229</span></div>
<div class="cell" style="left:219px;letter-spacing:0.02px">James Thomas</div>
<div class="cell" style="left:409px"><span class="bdg" style="width:53px;background:#ff3a6e;letter-spacing:-0.15px">high</span></div>
<div class="cell" style="left:535px"><span class="bdg" style="width:73px;background:#ffc107;letter-spacing:-0.15px">Pending</span></div>
<div class="cell" style="left:709px"><span class="bdg" style="width:85px;background:#ffa21d;letter-spacing:-0.19px">Not Assign</span></div>
<div class="cell" style="left:891px"><span class="bdg" style="width:72px;background:#ffa21d;letter-spacing:-0.32px">Pending</span></div>
<div class="cell" style="left:1044px;color:#0CAF60;letter-spacing:0.69px">WorkDo</div>
<div class="cell" style="left:1191.500px;letter-spacing:0.46px">6 months ago</div>
<span class="ab" style="left:1370px;width:32px;background:#6c757d"><svg width="14" height="14" viewBox="0 0 24 24" fill="none" stroke="currentColor" stroke-width="2" stroke-linecap="round" stroke-linejoin="round" ><path d="M8 7a4 4 0 1 0 8 0a4 4 0 0 0 -8 0"/><path d="M6 21v-2a4 4 0 0 1 4 -4h4a4 4 0 0 1 4 4v2"/></svg></span>
<span class="ab" style="left:1410px;width:32px;background:#ffa21d"><svg width="14" height="14" viewBox="0 0 24 24" fill="none" stroke="currentColor" stroke-width="2" stroke-linecap="round" stroke-linejoin="round" ><path d="M10 12a2 2 0 1 0 4 0a2 2 0 0 0 -4 0"/><path d="M21 12c-2.4 4 -5.4 6 -9 6c-3.6 0 -6.6 -2 -9 -6c2.4 -4 5.4 -6 9 -6c3.6 0 6.6 2 9 6"/></svg></span>
<span class="ab" style="left:1451px;width:32px;background:#3ec9d6"><svg width="14" height="14" viewBox="0 0 24 24" fill="none" stroke="currentColor" stroke-width="2" stroke-linecap="round" stroke-linejoin="round" ><path d="M4 20h4l10.5 -10.5a2.828 2.828 0 1 0 -4 -4l-10.5 10.5v4"/><path d="M13.5 6.500l4 4"/></svg></span>
<span class="ab" style="left:1491px;width:33px;background:#ff3a6e"><svg width="14" height="14" viewBox="0 0 24 24" fill="none" stroke="currentColor" stroke-width="2" stroke-linecap="round" stroke-linejoin="round" ><path d="M4 7l16 0"/><path d="M10 11l0 6"/><path d="M14 11l0 6"/><path d="M5 7l1 12a2 2 0 0 0 2 2h8a2 2 0 0 0 2 -2l1 -12"/><path d="M9 7v-3a1 1 0 0 1 1 -1h4a1 1 0 0 1 1 1v3"/></svg></span>
</div>
<div class="row" style="top:498.40px">
<div class="cell" style="left:25px"><span class="idb" style="letter-spacing:0.38px">1711953198</span></div>
<div class="cell" style="left:219px;letter-spacing:0.15px">Jordan Saunders</div>
<div class="cell" style="left:409px"><span class="bdg" style="width:49px;background:#ffa21d;letter-spacing:0.02px">low</span></div>
<div class="cell" style="left:535px"><span class="bdg" style="width:87px;background:#bcefaa;letter-spacing:-0.25px">Diagnosing</span></div>
<div class="cell" style="left:709px"><span class="bdg" style="width:105px;background:#6fd943;letter-spacing:-0.21px">Shafira Barnes</span></div>
<div class="cell" style="left:891px"><span class="bdg" style="width:54px;background:#3ec9d6;letter-spacing:-0.45px">Sent</span></div>
<div class="cell" style="left:1044px;color:#0CAF60;letter-spacing:0.69px">WorkDo</div>
<div class="cell" style="left:1191.500px;letter-spacing:0.46px">6 months ago</div>
<span class="ab" style="left:1337px;width:32px;background:#6c757d"><svg width="14" height="14" viewBox="0 0 24 24" fill="none" stroke="currentColor" stroke-width="2" stroke-linecap="round" stroke-linejoin="round" ><path d="M8 7a4 4 0 1 0 8 0a4 4 0 0 0 -8 0"/><path d="M6 21v-2a4 4 0 0 1 4 -4h4a4 4 0 0 1 4 4v2"/></svg></span>
<span class="ab" style="left:1378px;width:32px;background:#ffa21d"><svg width="14" height="14" viewBox="0 0 24 24" fill="none" stroke="currentColor" stroke-width="2" stroke-linecap="round" stroke-linejoin="round" ><path d="M10 12a2 2 0 1 0 4 0a2 2 0 0 0 -4 0"/><path d="M21 12c-2.4 4 -5.4 6 -9 6c-3.6 0 -6.6 -2 -9 -6c2.4 -4 5.4 -6 9 -6c3.6 0 6.6 2 9 6"/></svg></span>
<span class="ab" style="left:1418px;width:32px;background:#3ec9d6"><svg width="14" height="14" viewBox="0 0 24 24" fill="none" stroke="currentColor" stroke-width="2" stroke-linecap="round" stroke-linejoin="round" ><path d="M4 20h4l10.5 -10.5a2.828 2.828 0 1 0 -4 -4l-10.5 10.5v4"/><path d="M13.5 6.500l4 4"/></svg></span>
<span class="ab" style="left:1459px;width:32px;background:#ff3a6e"><svg width="14" height="14" viewBox="0 0 24 24" fill="none" stroke="currentColor" stroke-width="2" stroke-linecap="round" stroke-linejoin="round" ><path d="M4 7l16 0"/><path d="M10 11l0 6"/><path d="M14 11l0 6"/><path d="M5 7l1 12a2 2 0 0 0 2 2h8a2 2 0 0 0 2 -2l1 -12"/><path d="M9 7v-3a1 1 0 0 1 1 -1h4a1 1 0 0 1 1 1v3"/></svg></span>
<span class="ab" style="left:1499px;width:33px;background:#0CAF60"><svg width="14" height="14" viewBox="0 0 24 24" fill="none" stroke="currentColor" stroke-width="2" stroke-linecap="round" stroke-linejoin="round" ><path d="M4 6l9 0"/><path d="M4 12l7 0"/><path d="M4 18l7 0"/><path d="M15 15l3 3l3 -3"/><path d="M18 6l0 12"/></svg></span>
</div>
<div class="row" style="top:564.06px">
<div class="cell" style="left:25px"><span class="idb" style="letter-spacing:0.38px">1711953164</span></div>
<div class="cell" style="left:219px;letter-spacing:0.37px">Wynne Berger</div>
<div class="cell" style="left:409px"><span class="bdg" style="width:53px;background:#ff3a6e;letter-spacing:-0.15px">high</span></div>
<div class="cell" style="left:535px"><span class="bdg" style="width:76px;background:#d0fa24;letter-spacing:-0.52px">Received</span></div>
<div class="cell" style="left:709px"><span class="bdg" style="width:57px;background:#6fd943;letter-spacing:0.13px">Maia</span></div>
<div class="cell" style="left:891px"><span class="bdg" style="width:56.5px;background:#0CAF60;letter-spacing:-0.03px">Draft</span></div>
<div class="cell" style="left:1044px;color:#0CAF60;letter-spacing:0.69px">WorkDo</div>
<div class="cell" style="left:1191.500px;letter-spacing:0.46px">6 months ago</div>
<span class="ab" style="left:1337px;width:32px;background:#6c757d"><svg width="14" height="14" viewBox="0 0 24 24" fill="none" stroke="currentColor" stroke-width="2" stroke-linecap="round" stroke-linejoin="round" ><path d="M8 7a4 4 0 1 0 8 0a4 4 0 0 0 -8 0"/><path d="M6 21v-2a4 4 0 0 1 4 -4h4a4 4 0 0 1 4 4v2"/></svg></span>
<span class="ab" style="left:1378px;width:32px;background:#ffa21d"><svg width="14" height="14" viewBox="0 0 24 24" fill="none" stroke="currentColor" stroke-width="2" stroke-linecap="round" stroke-linejoin="round" ><path d="M10 12a2 2 0 1 0 4 0a2 2 0 0 0 -4 0"/><path d="M21 12c-2.4 4 -5.4 6 -9 6c-3.6 0 -6.6 -2 -9 -6c2.4 -4 5.4 -6 9 -6c3.6 0 6.6 2 9 6"/></svg></span>
<span class="ab" style="left:1418px;width:32px;background:#3ec9d6"><svg width="14" height="14" viewBox="0 0 24 24" fill="none" stroke="currentColor" stroke-width="2" stroke-linecap="round" stroke-linejoin="round" ><path d="M4 20h4l10.5 -10.5a2.828 2.828 0 1 0 -4 -4l-10.5 10.5v4"/><path d="M13.5 6.500l4 4"/></svg></span>
<span class="ab" style="left:1459px;width:32px;background:#ff3a6e"><svg width="14" height="14" viewBox="0 0 24 24" fill="none" stroke="currentColor" stroke-width="2" stroke-linecap="round" stroke-linejoin="round" ><path d="M4 7l16 0"/><path d="M10 11l0 6"/><path d="M14 11l0 6"/><path d="M5 7l1 12a2 2 0 0 0 2 2h8a2 2 0 0 0 2 -2l1 -12"/><path d="M9 7v-3a1 1 0 0 1 1 -1h4a1 1 0 0 1 1 1v3"/></svg></span>
<span class="ab" style="left:1499px;width:33px;background:#0CAF60"><svg width="14" height="14" viewBox="0 0 24 24" fill="none" stroke="currentColor" stroke-width="2" stroke-linecap="round" stroke-linejoin="round" ><path d="M4 6l9 0"/><path d="M4 12l7 0"/><path d="M4 18l7 0"/><path d="M15 15l3 3l3 -3"/><path d="M18 6l0 12"/></svg></span>
</div>
<div class="row" style="top:629.72px">
<div class="cell" style="left:25px"><span class="idb" style="letter-spacing:0.38px">1711953120</span></div>
<div class="cell" style="left:219px;letter-spacing:0.43px">Amanda Duke</div>
<div class="cell" style="left:409px"><span class="bdg" style="width:53px;background:#ff3a6e;letter-spacing:-0.15px">high</span></div>
<div class="cell" style="left:535px"><span class="bdg" style="width:73px;background:#ffc107;letter-spacing:-0.15px">Pending</span></div>
<div class="cell" style="left:709px"><span class="bdg" style="width:85px;background:#ffa21d;letter-spacing:-0.19px">Not Assign</span></div>
<div class="cell" style="left:891px"><span class="bdg" style="width:72px;background:#ffa21d;letter-spacing:-0.32px">Pending</span></div>
<div class="cell" style="left:1044px;color:#0CAF60;letter-spacing:0.69px">WorkDo</div>
<div class="cell" style="left:1191.500px;letter-spacing:0.46px">6 months ago</div>
<span class="ab" style="left:1370px;width:32px;background:#6c757d"><svg width="14" height="14" viewBox="0 0 24 24" fill="none" stroke="currentColor" stroke-width="2" stroke-linecap="round" stroke-linejoin="round" ><path d="M8 7a4 4 0 1 0 8 0a4 4 0 0 0 -8 0"/><path d="M6 21v-2a4 4 0 0 1 4 -4h4a4 4 0 0 1 4 4v2"/></svg></span>
<span class="ab" style="left:1410px;width:32px;background:#ffa21d"><svg width="14" height="14" viewBox="0 0 24 24" fill="none" stroke="currentColor" stroke-width="2" stroke-linecap="round" stroke-linejoin="round" ><path d="M10 12a2 2 0 1 0 4 0a2 2 0 0 0 -4 0"/><path d="M21 12c-2.4 4 -5.4 6 -9 6c-3.6 0 -6.6 -2 -9 -6c2.4 -4 5.4 -6 9 -6c3.6 0 6.6 2 9 6"/></svg></span>
<span class="ab" style="left:1451px;width:32px;background:#3ec9d6"><svg width="14" height="14" viewBox="0 0 24 24" fill="none" stroke="currentColor" stroke-width="2" stroke-linecap="round" stroke-linejoin="round" ><path d="M4 20h4l10.5 -10.5a2.828 2.828 0 1 0 -4 -4l-10.5 10.5v4"/><path d="M13.5 6.500l4 4"/></svg></span>
<span class="ab" style="left:1491px;width:33px;background:#ff3a6e"><svg width="14" height="14" viewBox="0 0 24 24" fill="none" stroke="currentColor" stroke-width="2" stroke-linecap="round" stroke-linejoin="round" ><path d="M4 7l16 0"/><path d="M10 11l0 6"/><path d="M14 11l0 6"/><path d="M5 7l1 12a2 2 0 0 0 2 2h8a2 2 0 0 0 2 -2l1 -12"/><path d="M9 7v-3a1 1 0 0 1 1 -1h4a1 1 0 0 1 1 1v3"/></svg></span>
</div>
<div class="row" style="top:695.38px">
<div class="cell" style="left:25px"><span class="idb" style="letter-spacing:0.38px">1711953092</span></div>
<div class="cell" style="left:219px;letter-spacing:0.53px">Mona Mejia</div>
<div class="cell" style="left:409px"><span class="bdg" style="width:53px;background:#ff3a6e;letter-spacing:-0.15px">high</span></div>
<div class="cell" style="left:535px"><span class="bdg" style="width:88px;background:#76ecfa;letter-spacing:-0.25px">In Progress</span></div>
<div class="cell" style="left:709px"><span class="bdg" style="width:111px;background:#6fd943;letter-spacing:-0.32px">Deepak Sharma</span></div>
<div class="cell" style="left:891px"><span class="bdg" style="width:56.5px;background:#0CAF60;letter-spacing:-0.03px">Draft</span></div>
<div class="cell" style="left:1044px;color:#0CAF60;letter-spacing:0.69px">WorkDo</div>
<div class="cell" style="left:1191.500px;letter-spacing:0.46px">6 months ago</div>
<span class="ab" style="left:1337px;width:32px;background:#6c757d"><svg width="14" height="14" viewBox="0 0 24 24" fill="none" stroke="currentColor" stroke-width="2" stroke-linecap="round" stroke-linejoin="round" ><path d="M8 7a4 4 0 1 0 8 0a4 4 0 0 0 -8 0"/><path d="M6 21v-2a4 4 0 0 1 4 -4h4a4 4 0 0 1 4 4v2"/></svg></span>
<span class="ab" style="left:1378px;width:32px;background:#ffa21d"><svg width="14" height="14" viewBox="0 0 24 24" fill="none" stroke="currentColor" stroke-width="2" stroke-linecap="round" stroke-linejoin="round" ><path d="M10 12a2 2 0 1 0 4 0a2 2 0 0 0 -4 0"/><path d="M21 12c-2.4 4 -5.4 6 -9 6c-3.6 0 -6.6 -2 -9 -6c2.4 -4 5.4 -6 9 -6c3.6 0 6.6 2 9 6"/></svg></span>
<span class="ab" style="left:1418px;width:32px;background:#3ec9d6"><svg width="14" height="14" viewBox="0 0 24 24" fill="none" stroke="currentColor" stroke-width="2" stroke-linecap="round" stroke-linejoin="round" ><path d="M4 20h4l10.5 -10.5a2.828 2.828 0 1 0 -4 -4l-10.5 10.5v4"/><path d="M13.5 6.500l4 4"/></svg></span>
<span class="ab" style="left:1459px;width:32px;background:#ff3a6e"><svg width="14" height="14" viewBox="0 0 24 24" fill="none" stroke="currentColor" stroke-width="2" stroke-linecap="round" stroke-linejoin="round" ><path d="M4 7l16 0"/><path d="M10 11l0 6"/><path d="M14 11l0 6"/><path d="M5 7l1 12a2 2 0 0 0 2 2h8a2 2 0 0 0 2 -2l1 -12"/><path d="M9 7v-3a1 1 0 0 1 1 -1h4a1 1 0 0 1 1 1v3"/></svg></span>
<span class="ab" style="left:1499px;width:33px;background:#0CAF60"><svg width="14" height="14" viewBox="0 0 24 24" fill="none" stroke="currentColor" stroke-width="2" stroke-linecap="round" stroke-linejoin="round" ><path d="M4 6l9 0"/><path d="M4 12l7 0"/><path d="M4 18l7 0"/><path d="M15 15l3 3l3 -3"/><path d="M18 6l0 12"/></svg></span>
</div>
<div class="row" style="top:761.04px">
<div class="cell" style="left:25px"><span class="idb" style="letter-spacing:0.38px">1711953050</span></div>
<div class="cell" style="left:219px;letter-spacing:0.13px">Sophia Levy</div>
<div class="cell" style="left:409px"><span class="bdg" style="width:53px;background:#ff3a6e;letter-spacing:-0.15px">high</span></div>
<div class="cell" style="left:535px"><span class="bdg" style="width:87px;background:#06fa73;letter-spacing:-0.04px">Completed</span></div>
<div class="cell" style="left:709px"><span class="bdg" style="width:107px;background:#6fd943;letter-spacing:-0.45px">Joseph Fiennes</span></div>
<div class="cell" style="left:891px"><span class="bdg" style="width:72px;background:#ffa21d;letter-spacing:-0.32px">Pending</span></div>
<div class="cell" style="left:1044px;color:#0CAF60;letter-spacing:0.69px">WorkDo</div>
<div class="cell" style="left:1191.500px;letter-spacing:0.46px">6 months ago</div>
<span class="ab" style="left:1337px;width:32px;background:#6c757d"><svg width="14" height="14" viewBox="0 0 24 24" fill="none" stroke="currentColor" stroke-width="2" stroke-linecap="round" stroke-linejoin="round" ><path d="M8 7a4 4 0 1 0 8 0a4 4 0 0 0 -8 0"/><path d="M6 21v-2a4 4 0 0 1 4 -4h4a4 4 0 0 1 4 4v2"/></svg></span>
<span class="ab" style="left:1378px;width:32px;background:#ffa21d"><svg width="14" height="14" viewBox="0 0 24 24" fill="none" stroke="currentColor" stroke-width="2" stroke-linecap="round" stroke-linejoin="round" ><path d="M10 12a2 2 0 1 0 4 0a2 2 0 0 0 -4 0"/><path d="M21 12c-2.4 4 -5.4 6 -9 6c-3.6 0 -6.6 -2 -9 -6c2.4 -4 5.4 -6 9 -6c3.6 0 6.6 2 9 6"/></svg></span>
<span class="ab" style="left:1418px;width:32px;background:#3ec9d6"><svg width="14" height="14" viewBox="0 0 24 24" fill="none" stroke="currentColor" stroke-width="2" stroke-linecap="round" stroke-linejoin="round" ><path d="M4 20h4l10.5 -10.5a2.828 2.828 0 1 0 -4 -4l-10.5 10.5v4"/><path d="M13.5 6.500l4 4"/></svg></span>
<span class="ab" style="left:1459px;width:32px;background:#ff3a6e"><svg width="14" height="14" viewBox="0 0 24 24" fill="none" stroke="currentColor" stroke-width="2" stroke-linecap="round" stroke-linejoin="round" ><path d="M4 7l16 0"/><path d="M10 11l0 6"/><path d="M14 11l0 6"/><path d="M5 7l1 12a2 2 0 0 0 2 2h8a2 2 0 0 0 2 -2l1 -12"/><path d="M9 7v-3a1 1 0 0 1 1 -1h4a1 1 0 0 1 1 1v3"/></svg></span>
<span class="ab" style="left:1499px;width:33px;background:#0CAF60"><svg width="14" height="14" viewBox="0 0 24 24" fill="none" stroke="currentColor" stroke-width="2" stroke-linecap="round" stroke-linejoin="round" ><path d="M4 6l9 0"/><path d="M4 12l7 0"/><path d="M4 18l7 0"/><path d="M15 15l3 3l3 -3"/><path d="M18 6l0 12"/></svg></span>
</div>
<span class="abs" style="left:25px;top:871px;line-height:20px;font-size:14px;color:#293240;white-space:nowrap;letter-spacing:0.29px">Showing 1 to 10 of 21 entries</span>
<div class="abs" style="left:1394px;top:860px;width:186px;height:38px;border:1px solid #dee2e6;border-radius:8px;overflow:hidden;font-size:16px;color:#3b3f8f">
<span class="abs" style="left:0;top:0;width:41px;height:36px;display:flex;align-items:center;justify-content:center;border-right:1px solid #dee2e6"><svg width="17" height="17" viewBox="0 0 24 24" fill="none" stroke="#3b3f8f" stroke-width="1.9" stroke-linecap="round" stroke-linejoin="round" ><path d="M15 6l-6 6l6 6"/></svg></span>
<span class="abs" style="left:40px;top:-1px;width:36px;height:38px;background:#0CAF60;color:#fff;text-align:center;line-height:38px">1</span>
<span class="abs" style="left:76px;top:0;width:34px;height:36px;text-align:center;line-height:36px;border-right:1px solid #dee2e6">2</span>
<span class="abs" style="left:110px;top:0;width:34px;height:36px;text-align:center;line-height:36px;border-right:1px solid #dee2e6">3</span>
<span class="abs" style="left:144px;top:0;width:40px;height:36px;display:flex;align-items:center;justify-content:center"><svg width="17" height="17" viewBox="0 0 24 24" fill="none" stroke="#3b3f8f" stroke-width="1.9" stroke-linecap="round" stroke-linejoin="round" ><path d="M9 6l6 6l-6 6"/></svg></span>
</div>
</div>
<div class="backdrop"></div>
<div class="modal">
<span class="abs" style="left:25px;top:20.500px;font-size:17.500px;font-weight:400;-webkit-text-stroke:.55px #060606;line-height:24px;color:#060606;white-space:nowrap;letter-spacing:-0.06px">Add Technician</span>
<span class="abs" style="left:454.700px;top:21px"><svg width="22" height="22" viewBox="0 0 24 24" fill="none" stroke="#3c3c3c" stroke-width="1.5" stroke-linecap="round" stroke-linejoin="round" ><path d="M5 5l14 14"/><path d="M19 5l-14 14"/></svg></span>
<div class="abs" style="left:0;top:64px;width:498px;height:1px;background:#f1f1f1"></div>
<span class="lbl" style="top:85.500px;letter-spacing:0.28px">Service Id</span>
<div class="fc" style="top:114px;background:#e9ecef;letter-spacing:0.36px">1711953345</div>
<span class="lbl" style="top:176.500px;letter-spacing:0.65px">Technician List<span class="req">*</span></span>
<div class="fc" style="top:205px;letter-spacing:0.10px">Please Select Technician<span class="abs" style="left:426px;top:12px"><svg width="16" height="16" viewBox="0 0 24 24" fill="none" stroke="#343a40" stroke-width="2.4" stroke-linecap="round" stroke-linejoin="round" ><path d="M6 9l6 6l6 -6"/></svg></span></div>
<span class="lbl" style="top:267.500px;letter-spacing:0.69px">Extimated Completion Date<span class="req">*</span></span>
<div class="fc" style="top:296px;height:41.500px;letter-spacing:0.84px">mm/dd/yyyy<svg class="abs" style="left:424px;top:12px" width="14" height="15" viewBox="0 0 14 15"><rect x="1.500" y="2.500" width="11" height="11" rx="1.500" fill="none" stroke="#111" stroke-width="1.500"/><rect x="1.500" y="2.500" width="11" height="3" fill="#111"/><rect x="3.500" y=".800" width="1.600" height="2.500" fill="#111"/><rect x="8.900" y=".800" width="1.600" height="2.500" fill="#111"/></svg></div>
<div class="abs" style="left:0;top:379px;width:498px;height:1px;background:#f1f1f1"></div>
<span class="abs" style="left:239px;top:401px;width:85px;height:39px;border-radius:6px;background:#6c757d;color:#fff;text-align:center;line-height:40.500px;font-size:14px;letter-spacing:0.14px">Cancel</span>
<span class="abs" style="left:333px;top:400px;width:145px;height:41px;border-radius:6px;background:#6fd943;color:#fff;text-align:center;line-height:42.500px;font-size:14px;letter-spacing:0.50px">Add Technician</span>
</div>
</body></html>
